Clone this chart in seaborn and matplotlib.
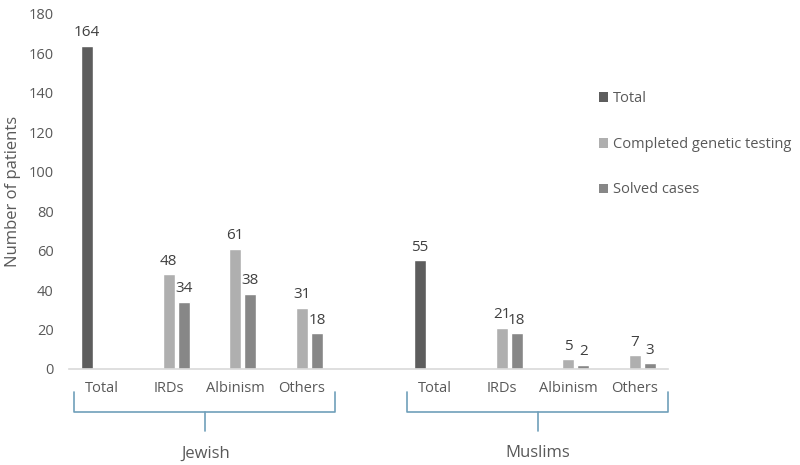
import matplotlib
matplotlib.use("Agg")
import matplotlib.pyplot as plt
import matplotlib.transforms as mtransforms
from matplotlib.patches import Patch
import seaborn as sns
import pandas as pd
import numpy as np

groups = ["Jewish", "Muslims"]
categories = ["Total", "IRDs", "Albinism", "Others"]
series = ["Total", "Completed genetic testing", "Solved cases"]
jewish_total = [164, None, None, None]
jewish_completed = [None, 48, 61, 31]
jewish_solved = [None, 34, 38, 18]
muslim_total = [55, None, None, None]
muslim_completed = [None, 21, 5, 7]
muslim_solved = [None, 18, 2, 3]
colors = ["#5d5d5d", "#afafaf", "#878787"]

sns.set_theme(style="white")
plt.rcParams["font.family"] = ["Open Sans", "DejaVu Sans"]

rows = []
order = []
tick_labels = []
group_vals = {
    "Jewish": [jewish_total, jewish_completed, jewish_solved],
    "Muslims": [muslim_total, muslim_completed, muslim_solved],
}
for gi, g in enumerate(groups):
    if gi > 0:
        order.append(f"gap{gi}")
        tick_labels.append("")
    for ci, c in enumerate(categories):
        key = f"{g}|{c}"
        order.append(key)
        tick_labels.append(c)
        for si, s in enumerate(series):
            v = group_vals[g][si][ci]
            rows.append({"cat": key, "series": s, "value": np.nan if v is None else v})
df = pd.DataFrame(rows)

fig = plt.figure(figsize=(8, 4.65), dpi=100)
ax = fig.add_axes([0.086, 0.2065, 0.749, 0.7635])

sns.barplot(data=df, x="cat", y="value", hue="series", order=order,
            hue_order=series, palette=colors, width=0.68, gap=0.2,
            ax=ax, legend=False, saturation=1)

ax.set_xlim(-0.5, len(order) - 0.5)
ax.set_ylim(0, 180)
ax.set_yticks(np.arange(0, 181, 20))
ax.set_xticks(range(len(order)))
ax.set_xticklabels(tick_labels)
ax.tick_params(axis="both", length=0, labelsize=10.5, labelcolor="#595959")
ax.tick_params(axis="x", pad=9)
ax.tick_params(axis="y", pad=11)
ax.set_xlabel("")
ax.set_ylabel("Number of patients", fontsize=12, color="#595959", labelpad=5)
for sp in ["top", "right", "left"]:
    ax.spines[sp].set_visible(False)
ax.spines["bottom"].set_color("#d9d9d9")
ax.spines["bottom"].set_linewidth(1.2)
ax.grid(False)

for cont in ax.containers:
    labels = ["" if np.isnan(v) else f"{int(v)}" for v in cont.datavalues]
    ax.bar_label(cont, labels=labels, padding=4, fontsize=11, color="#404040")

# group brackets
trans = mtransforms.blended_transform_factory(ax.transData, ax.transAxes)
bc = "#6f9fba"
for gi, g in enumerate(groups):
    idx = [order.index(f"{g}|{c}") for c in categories]
    left, right = idx[0] - 0.42, idx[-1] + 0.5
    mid = (idx[0] + idx[-1]) / 2
    y_top, y_mid, y_bot = -0.065, -0.12, -0.175
    ax.plot([left, left, right, right], [y_top, y_mid, y_mid, y_top], color=bc,
            lw=1.2, transform=trans, clip_on=False)
    ax.plot([mid + 0.05, mid + 0.05], [y_mid, y_bot], color=bc, lw=1.2,
            transform=trans, clip_on=False)
    ax.text(mid + 0.05, -0.238, g, transform=trans, ha="center", va="center",
            fontsize=12, color="#595959")

handles = [Patch(facecolor=c, edgecolor="none") for c in colors]
fig.legend(handles, series, loc="upper left", bbox_to_anchor=(0.732, 0.832),
           frameon=False, fontsize=10.5, labelcolor="#595959",
           handlelength=0.65, handleheight=0.65, handletextpad=0.35,
           labelspacing=2.1)

fig.savefig("out.png", dpi=100)
